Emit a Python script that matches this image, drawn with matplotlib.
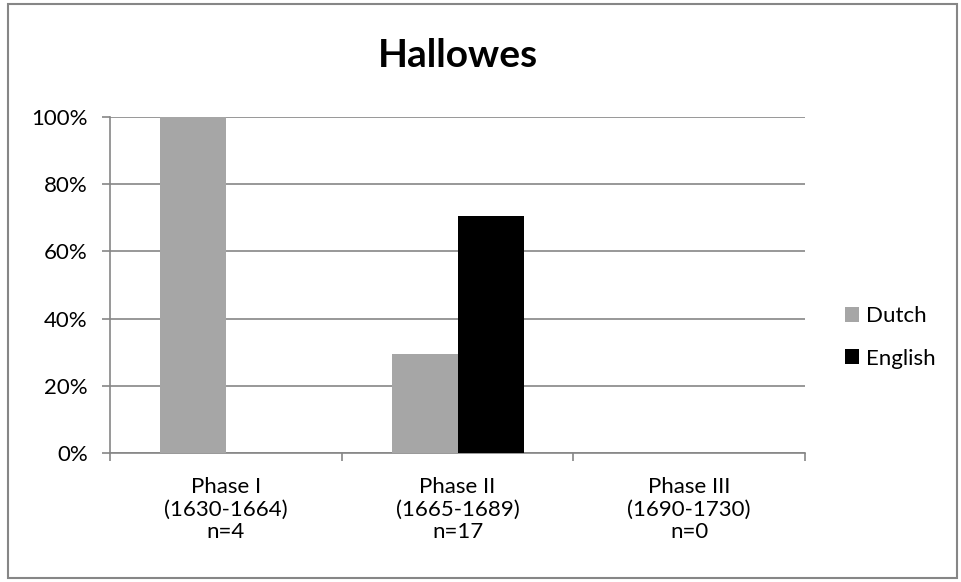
import numpy as np
import matplotlib.pyplot as plt
from matplotlib.patches import Rectangle
from matplotlib.ticker import PercentFormatter

plt.rcParams["font.family"] = ["Lato", "DejaVu Sans"]

phases = ["Phase I\n(1630-1664)\nn=4", "Phase II\n(1665-1689)\nn=17", "Phase III\n(1690-1730)\nn=0"]
dutch = [1.00, 0.294, 0.0]
english = [0.0, 0.706, 0.0]

fig = plt.figure(figsize=(9.61, 5.82), dpi=100)
ax = fig.add_axes([0.1145, 0.2216, 0.7232, 0.5773])

x = np.arange(len(phases))
w = 0.285
ax.bar(x - w / 2, dutch, w, color="#A6A6A6", label="Dutch", zorder=3)
ax.bar(x + w / 2, english, w, color="black", label="English", zorder=3)

ax.set_xlim(-0.5, 2.5)
ax.set_ylim(0, 1)
ax.set_yticks(np.arange(0, 1.01, 0.2))
ax.yaxis.set_major_formatter(PercentFormatter(1.0, decimals=0))
ax.yaxis.grid(True, color="#868686", linewidth=1.2, zorder=0)

# category labels sit between boundary ticks
ax.set_xticks([-0.5, 0.5, 1.5, 2.5])
ax.set_xticklabels([])
ax.set_xticks(x, minor=True)
ax.set_xticklabels(phases, minor=True, fontsize=16, linespacing=1.17)
ax.tick_params(axis="x", which="minor", length=0, pad=17)
ax.tick_params(axis="x", which="major", length=6, width=1.2, color="#868686", direction="out")
ax.tick_params(axis="y", length=6, width=1.2, color="#868686", labelsize=16, pad=10)

for side in ["top", "right"]:
    ax.spines[side].set_visible(False)
for side in ["left", "bottom"]:
    ax.spines[side].set_color("#868686")
    ax.spines[side].set_linewidth(1.2)

ax.set_title("Hallowes", fontsize=28, fontweight="bold", pad=36)

ax.legend(loc="center left", bbox_to_anchor=(0.858, 0.42), bbox_transform=fig.transFigure,
          frameon=False, fontsize=16, handlelength=0.65, handleheight=0.65,
          handletextpad=0.3, labelspacing=1.0)

fig.patches.append(Rectangle((8 / 961, 4 / 582), 949 / 961, 574 / 582, transform=fig.transFigure,
                             fill=False, edgecolor="#868686", linewidth=1.5))

fig.savefig("out.png", dpi=100)
